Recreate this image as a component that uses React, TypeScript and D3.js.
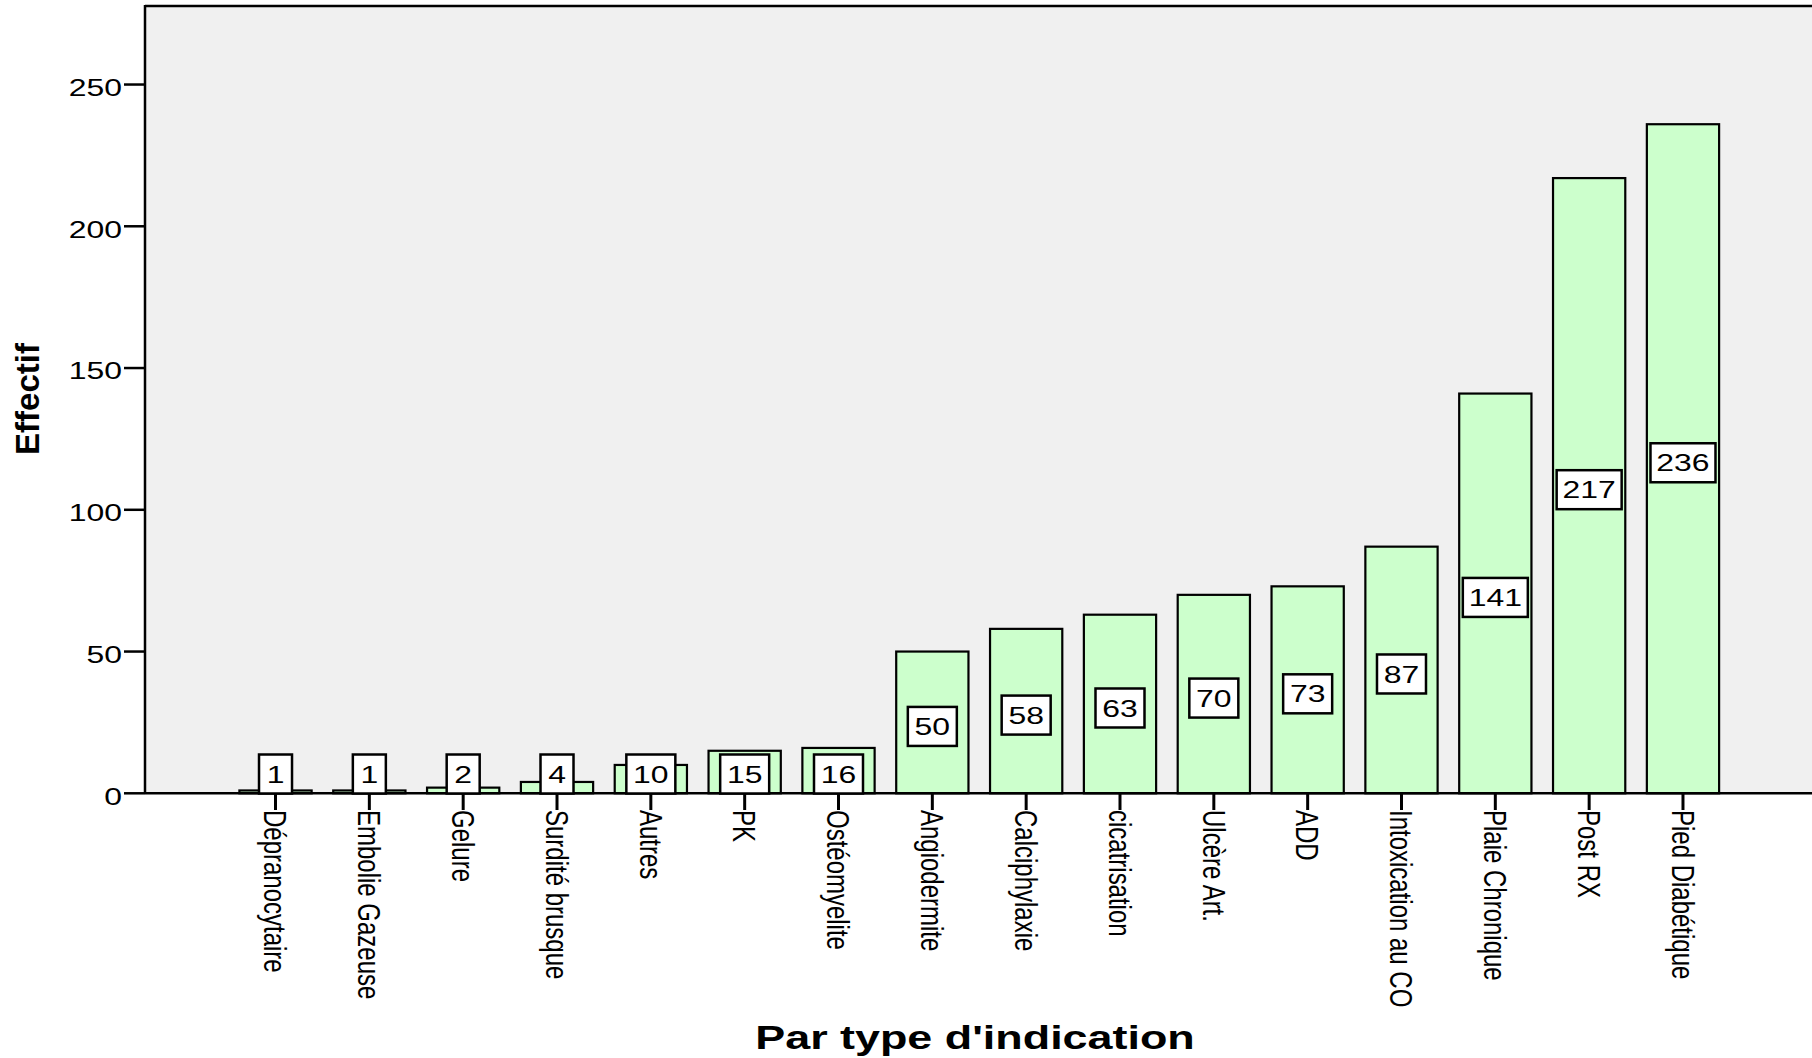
import { useEffect, useRef } from "react";
import * as d3 from "d3";

const categories = [
  "Dépranocytaire",
  "Embolie Gazeuse",
  "Gelure",
  "Surdité brusque",
  "Autres",
  "PK",
  "Ostéomyelite",
  "Angiodermite",
  "Calciphylaxie",
  "cicatrisation",
  "Ulcère Art.",
  "ADD",
  "Intoxication au CO",
  "Plaie Chronique",
  "Post RX",
  "Pied Diabétique",
];
const counts = [1, 1, 2, 4, 10, 15, 16, 50, 58, 63, 70, 73, 87, 141, 217, 236];
const yTicks = [0, 50, 100, 150, 200, 250];

const xTitle = "Par type d'indication";
const yTitle = "Effectif";

const W = 1812;
const H = 1058;
const FONT = "'Liberation Sans', Arial, sans-serif";
const STRETCH = 1.33; // le graphique d'origine est étiré horizontalement

const App = () => {
  const svgRef = useRef<SVGSVGElement>(null);

  useEffect(() => {
    const svg = d3.select(svgRef.current);
    svg.selectAll("*").remove();

    const plotLeft = 145;
    const plotTop = 6;
    const y0 = 793.3;

    const x = d3
      .scaleBand<string>()
      .domain(categories)
      .range([228.6, 1729.9])
      .paddingInner(0.23)
      .paddingOuter(0.115);

    const y = d3.scaleLinear().domain([0, 277.7]).range([y0, plotTop]);

    // fond du graphique
    svg
      .append("rect")
      .attr("x", plotLeft)
      .attr("y", plotTop)
      .attr("width", W - plotLeft + 5)
      .attr("height", y0 - plotTop)
      .attr("fill", "#f0f0f0");

    // barres
    svg
      .selectAll("rect.bar")
      .data(counts)
      .enter()
      .append("rect")
      .attr("class", "bar")
      .attr("x", (_, i) => x(categories[i])!)
      .attr("y", (d) => y(d))
      .attr("width", x.bandwidth())
      .attr("height", (d) => y0 - y(d))
      .attr("fill", "#ccffcc")
      .attr("stroke", "#000")
      .attr("stroke-width", 2.2);

    // cadre
    svg
      .append("line")
      .attr("x1", plotLeft)
      .attr("x2", W + 5)
      .attr("y1", plotTop)
      .attr("y2", plotTop)
      .attr("stroke", "#000")
      .attr("stroke-width", 2.5);
    svg
      .append("line")
      .attr("x1", plotLeft)
      .attr("x2", plotLeft)
      .attr("y1", plotTop - 1)
      .attr("y2", y0)
      .attr("stroke", "#000")
      .attr("stroke-width", 2.5);
    svg
      .append("line")
      .attr("x1", plotLeft)
      .attr("x2", W + 5)
      .attr("y1", y0)
      .attr("y2", y0)
      .attr("stroke", "#000")
      .attr("stroke-width", 2.5);

    // axe Y
    const yAxisG = svg.append("g");
    yAxisG
      .selectAll("line")
      .data(yTicks)
      .enter()
      .append("line")
      .attr("x1", 124)
      .attr("x2", plotLeft)
      .attr("y1", (d) => y(d))
      .attr("y2", (d) => y(d))
      .attr("stroke", "#000")
      .attr("stroke-width", 2.5);
    yAxisG
      .selectAll("text")
      .data(yTicks)
      .enter()
      .append("text")
      .attr("transform", (d) => `translate(122,${y(d) + 3}) scale(${STRETCH},1)`)
      .attr("text-anchor", "end")
      .attr("dy", "0.35em")
      .attr("font-family", FONT)
      .attr("font-size", 24)
      .attr("fill", "#000")
      .text((d) => d);

    // axe X
    const xAxisG = svg.append("g");
    xAxisG
      .selectAll("line")
      .data(categories)
      .enter()
      .append("line")
      .attr("x1", (d) => x(d)! + x.bandwidth() / 2)
      .attr("x2", (d) => x(d)! + x.bandwidth() / 2)
      .attr("y1", y0)
      .attr("y2", 810)
      .attr("stroke", "#000")
      .attr("stroke-width", 3);
    xAxisG
      .selectAll("text")
      .data(categories)
      .enter()
      .append("text")
      .attr(
        "transform",
        (d) =>
          `translate(${x(d)! + x.bandwidth() / 2},810) scale(${STRETCH},1) rotate(90)`
      )
      .attr("text-anchor", "start")
      .attr("dy", "0.35em")
      .attr("font-family", FONT)
      .attr("font-size", 24)
      .attr("fill", "#000")
      .text((d) => d);

    // étiquettes des valeurs
    const labels = svg
      .selectAll("g.label")
      .data(counts)
      .enter()
      .append("g")
      .attr("class", "label")
      .attr("transform", (d, i) => {
        const cx = x(categories[i])! + x.bandwidth() / 2;
        const cy = Math.min(y(d / 2) + 4, 774);
        return `translate(${cx},${cy})`;
      });
    labels
      .append("rect")
      .attr("x", (d) => -(String(d).length * 16 + 17) / 2)
      .attr("y", -19.5)
      .attr("width", (d) => String(d).length * 16 + 17)
      .attr("height", 39)
      .attr("fill", "#fff")
      .attr("stroke", "#000")
      .attr("stroke-width", 2.5);
    labels
      .append("text")
      .attr("transform", `scale(${STRETCH},1)`)
      .attr("text-anchor", "middle")
      .attr("dy", "0.36em")
      .attr("font-family", FONT)
      .attr("font-size", 24)
      .attr("fill", "#000")
      .text((d) => d);

    // titres
    svg
      .append("text")
      .attr("transform", `translate(975,1049) scale(1.36,1)`)
      .attr("text-anchor", "middle")
      .attr("font-family", FONT)
      .attr("font-weight", "bold")
      .attr("font-size", 33)
      .attr("fill", "#000")
      .text(xTitle);
    svg
      .append("text")
      .attr("transform", `translate(39,399) rotate(-90)`)
      .attr("text-anchor", "middle")
      .attr("font-family", FONT)
      .attr("font-weight", "bold")
      .attr("font-size", 33)
      .attr("fill", "#000")
      .text(yTitle);
  }, []);

  return (
    <svg
      ref={svgRef}
      width={W}
      height={H}
      style={{ position: "absolute", left: 0, top: 0, background: "#fff" }}
    />
  );
};

export default App;
